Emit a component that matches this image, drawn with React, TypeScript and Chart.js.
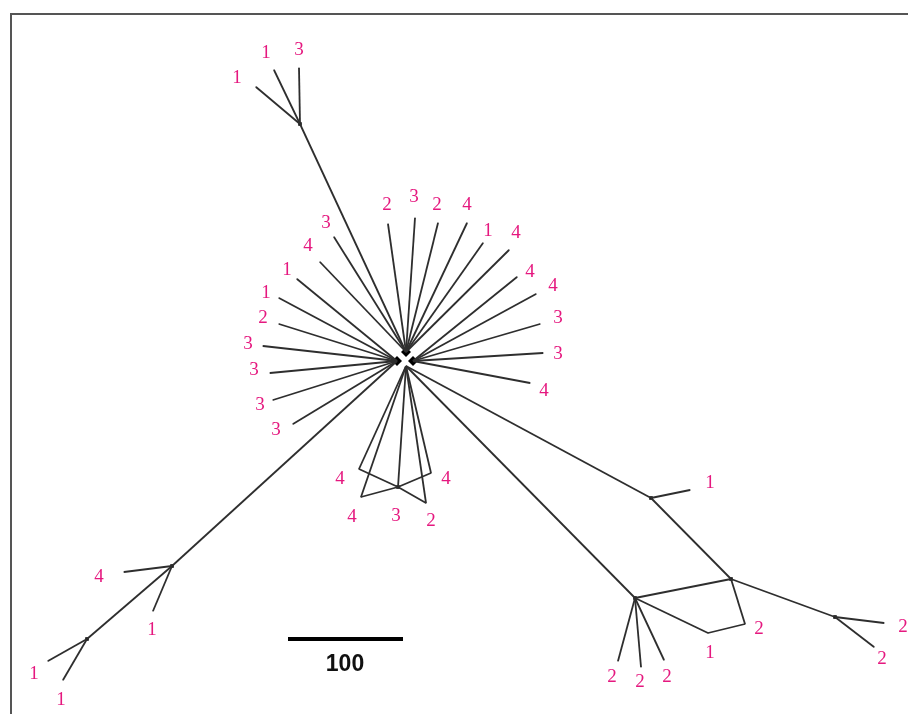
import React, { useEffect, useRef } from "react";
import { Chart, registerables } from "chart.js";

Chart.register(...registerables);

// Internal (hub / branch) nodes: [id, x, y]
const hubNodes: [string, number, number][] = [
  ["A", 406, 352],
  ["B", 397, 361],
  ["C", 413, 361],
  ["D", 406, 366],
];
const branchNodes: [string, number, number][] = [
  ["T", 300, 124],
  ["I", 172, 566],
  ["J", 87, 639],
  ["E", 651, 498],
  ["F", 731, 579],
  ["G", 635, 598],
  ["H", 835, 617],
];

// Leaves: [id, x, y, parent, label, labelX, labelY]
const leaves: [string, number, number, string, string, number, number][] = [
  ["t1", 256, 87, "T", "1", 237, 78],
  ["t2", 274, 70, "T", "1", 266, 53],
  ["t3", 299, 68, "T", "3", 299, 50],
  ["a1", 334, 237, "A", "3", 326, 223],
  ["a2", 320, 262, "A", "4", 308, 246],
  ["a3", 388, 224, "A", "2", 387, 205],
  ["a4", 415, 218, "A", "3", 414, 197],
  ["a5", 438, 223, "A", "2", 437, 205],
  ["a6", 467, 223, "A", "4", 467, 205],
  ["a7", 483, 243, "A", "1", 488, 231],
  ["a8", 509, 250, "A", "4", 516, 233],
  ["c1", 517, 277, "C", "4", 530, 272],
  ["c2", 536, 294, "C", "4", 553, 286],
  ["c3", 540, 324, "C", "3", 558, 318],
  ["c4", 543, 353, "C", "3", 558, 354],
  ["c5", 530, 383, "C", "4", 544, 391],
  ["b1", 297, 279, "B", "1", 287, 270],
  ["b2", 279, 298, "B", "1", 266, 293],
  ["b3", 279, 324, "B", "2", 263, 318],
  ["b4", 263, 346, "B", "3", 248, 344],
  ["b5", 270, 373, "B", "3", 254, 370],
  ["b6", 273, 400, "B", "3", 260, 405],
  ["b7", 293, 424, "B", "3", 276, 430],
  ["q1", 359, 469, "D", "4", 340, 479],
  ["q2", 361, 497, "D", "4", 352, 517],
  ["P3", 398, 487, "D", "3", 396, 516],
  ["q4", 431, 473, "D", "4", 446, 479],
  ["q5", 426, 503, "D", "2", 431, 521],
  ["i1", 124, 572, "I", "4", 99, 577],
  ["i2", 153, 611, "I", "1", 152, 630],
  ["j1", 48, 661, "J", "1", 34, 674],
  ["j2", 63, 680, "J", "1", 61, 700],
  ["e1", 690, 490, "E", "1", 710, 483],
  ["L2", 745, 624, "F", "2", 759, 629],
  ["L1", 708, 633, "G", "1", 710, 653],
  ["h1", 884, 623, "H", "2", 903, 627],
  ["h2", 874, 647, "H", "2", 882, 659],
  ["g1", 618, 661, "G", "2", 612, 677],
  ["g2", 641, 667, "G", "2", 640, 682],
  ["g3", 664, 660, "G", "2", 667, 677],
];

// Extra edges between internal nodes / reticulations
const extraEdges: [string, string][] = [
  ["T", "A"],
  ["I", "B"],
  ["I", "J"],
  ["D", "E"],
  ["E", "F"],
  ["D", "G"],
  ["G", "F"],
  ["F", "H"],
  ["L1", "L2"],
  ["q1", "P3"],
  ["q2", "P3"],
  ["P3", "q4"],
  ["P3", "q5"],
];

const scaleBar: [number, number][] = [
  [288, 639],
  [403, 639],
];
const scaleLabel = "100";
const scaleLabelPos: [number, number] = [345, 665];

export default function App() {
  const ref = useRef<HTMLCanvasElement | null>(null);

  useEffect(() => {
    if (!ref.current) return;
    const pos: Record<string, { x: number; y: number }> = {};
    hubNodes.forEach(([id, x, y]) => (pos[id] = { x, y }));
    branchNodes.forEach(([id, x, y]) => (pos[id] = { x, y }));
    leaves.forEach(([id, x, y]) => (pos[id] = { x, y }));

    const edgePairs: [string, string][] = [
      ...leaves.map(([id, , , parent]) => [parent, id] as [string, string]),
      ...extraEdges,
    ];

    const lineColor = "#2e2e2e";
    const edgeSets: any[] = edgePairs.map(([a, b]) => ({
      type: "line",
      data: [pos[a], pos[b]],
      showLine: true,
      borderColor: lineColor,
      borderWidth: 1.8,
      pointRadius: 0,
      pointHoverRadius: 0,
      fill: false,
    }));

    const datasets: any[] = [
      ...edgeSets,
      {
        type: "scatter",
        data: leaves.map(([, x, y]) => ({ x, y })),
        pointRadius: 1,
        pointHoverRadius: 0,
        pointStyle: "rect",
        backgroundColor: "#888",
        borderWidth: 0,
      },
      {
        type: "scatter",
        data: [...branchNodes.map(([, x, y]) => ({ x, y })), pos["P3"]],
        pointRadius: 2.5,
        pointHoverRadius: 0,
        pointStyle: "rect",
        backgroundColor: "#000",
        borderWidth: 0,
      },
      {
        type: "scatter",
        data: hubNodes.slice(0, 3).map(([, x, y]) => ({ x, y })),
        pointRadius: 5,
        pointHoverRadius: 0,
        pointStyle: "rectRot",
        backgroundColor: "#000",
        borderWidth: 0,
      },
      {
        type: "line",
        data: scaleBar.map(([x, y]) => ({ x, y })),
        showLine: true,
        borderColor: "#000",
        borderWidth: 4,
        pointRadius: 0,
        pointHoverRadius: 0,
      },
    ];

    const framePlugin = {
      id: "frame",
      beforeDraw(chart: any) {
        const c = chart.ctx;
        c.save();
        c.fillStyle = "#fff";
        c.fillRect(0, 0, chart.width, chart.height);
        c.strokeStyle = "#555";
        c.lineWidth = 2;
        c.beginPath();
        c.moveTo(11, chart.height);
        c.lineTo(11, 14);
        c.lineTo(chart.width, 14);
        c.stroke();
        c.restore();
      },
    };

    const labelPlugin = {
      id: "labels",
      afterDatasetsDraw(chart: any) {
        const c = chart.ctx;
        const xs = chart.scales.x;
        const ys = chart.scales.y;
        c.save();
        c.textAlign = "center";
        c.textBaseline = "middle";
        c.fillStyle = "#e5187f";
        c.font = '19px "Liberation Serif", "DejaVu Serif", serif';
        leaves.forEach(([, , , , label, lx, ly]) => {
          c.fillText(label, xs.getPixelForValue(lx), ys.getPixelForValue(ly));
        });
        c.fillStyle = "#111";
        c.font = 'bold 23px "Liberation Sans", Arial, sans-serif';
        c.fillText(
          scaleLabel,
          xs.getPixelForValue(scaleLabelPos[0]),
          ys.getPixelForValue(scaleLabelPos[1])
        );
        c.restore();
      },
    };

    const chart = new Chart(ref.current, {
      type: "scatter",
      data: { datasets },
      options: {
        animation: false,
        responsive: false,
        devicePixelRatio: 1,
        layout: { padding: 0, autoPadding: false },
        plugins: { legend: { display: false }, tooltip: { enabled: false } },
        scales: {
          x: { type: "linear", min: 0, max: 908, display: false },
          y: { type: "linear", min: 0, max: 714, reverse: true, display: false },
        },
        events: [],
      },
      plugins: [framePlugin, labelPlugin],
    } as any);
    return () => chart.destroy();
  }, []);

  return (
    <div style={{ position: "absolute", left: 0, top: 0, width: 908, height: 714 }}>
      <canvas ref={ref} width={908} height={714} style={{ display: "block" }} />
    </div>
  );
}
